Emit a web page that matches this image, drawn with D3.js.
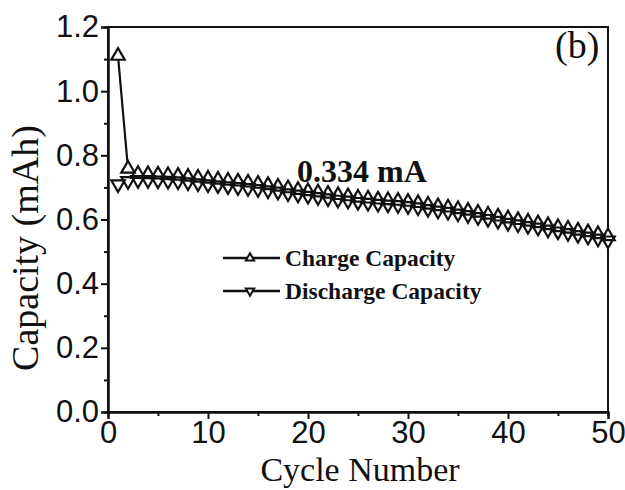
<!DOCTYPE html>
<html><head><meta charset="utf-8">
<script src="https://cdn.jsdelivr.net/npm/d3@7"></script>
<style>body{margin:0;background:#fff}svg{display:block}</style>
</head><body>
<svg id="c" width="625" height="490"></svg>
<script>
const cycles = d3.range(1, 51);
const chargeCapacity = [1.110, 0.758, 0.742, 0.741, 0.740, 0.738, 0.736, 0.733, 0.730, 0.727,
  0.724, 0.721, 0.718, 0.715, 0.711, 0.707, 0.702, 0.697, 0.692, 0.688,
  0.684, 0.680, 0.676, 0.672, 0.668, 0.665, 0.662, 0.660, 0.658, 0.655,
  0.651, 0.646, 0.641, 0.637, 0.632, 0.627, 0.621, 0.615, 0.609, 0.603,
  0.598, 0.593, 0.588, 0.582, 0.576, 0.571, 0.565, 0.560, 0.554, 0.548];
const dischargeCapacity = [0.710, 0.720, 0.723, 0.723, 0.722, 0.721, 0.719, 0.716, 0.713, 0.710,
  0.707, 0.704, 0.701, 0.698, 0.695, 0.691, 0.687, 0.682, 0.678, 0.674,
  0.670, 0.666, 0.662, 0.659, 0.655, 0.652, 0.649, 0.647, 0.645, 0.642,
  0.638, 0.633, 0.628, 0.624, 0.619, 0.614, 0.608, 0.602, 0.596, 0.590,
  0.585, 0.580, 0.575, 0.569, 0.563, 0.558, 0.552, 0.547, 0.541, 0.535];
const xTicks = [0, 10, 20, 30, 40, 50];
const yTicks = [0.0, 0.2, 0.4, 0.6, 0.8, 1.0, 1.2];
const seriesNames = ["Charge Capacity", "Discharge Capacity"];

const svg = d3.select("#c");
const L = 108, R = 608, T = 27, B = 412;
const x = d3.scaleLinear().domain([0, 50]).range([L, R]);
const y = d3.scaleLinear().domain([0, 1.2]).range([B, T]);
const serif = "Liberation Serif, Times New Roman, serif";
const sans = "Liberation Sans, Arial, sans-serif";

// frame
svg.append("rect").attr("x", L).attr("y", T).attr("width", R - L).attr("height", B - T)
  .attr("fill", "none").attr("stroke", "#111").attr("stroke-width", 2);

// axes
const xAxis = d3.axisBottom(x).tickValues(xTicks).tickFormat(d3.format("d")).tickSize(7).tickPadding(2);
const xMinor = d3.axisBottom(x).tickValues(d3.range(5, 50, 10)).tickFormat("").tickSize(4);
const yAxis = d3.axisLeft(y).tickValues(yTicks).tickFormat(d3.format(".1f")).tickSize(7).tickPadding(2);
const yMinor = d3.axisLeft(y).tickValues(d3.range(0.1, 1.2, 0.2)).tickFormat("").tickSize(4);

function style(g) {
  g.select(".domain").attr("stroke", "#111").attr("stroke-width", 2);
  g.selectAll(".tick line").attr("stroke", "#111").attr("stroke-width", 2);
  g.selectAll("text").attr("font-family", sans).attr("font-size", 31).attr("fill", "#111");
}
svg.append("g").attr("transform", `translate(0,${B})`).call(xAxis).call(style);
svg.append("g").attr("transform", `translate(0,${B})`).call(xMinor).call(style);
svg.append("g").attr("transform", `translate(${L},0)`).call(yAxis).call(style);
svg.append("g").attr("transform", `translate(${L},0)`).call(yMinor).call(style);

// titles
svg.append("text").attr("x", 360).attr("y", 481).attr("text-anchor", "middle")
  .attr("font-family", serif).attr("font-size", 34).attr("fill", "#111")
  .text("Cycle Number");
svg.append("text").attr("transform", `translate(38,248) rotate(-90)`).attr("text-anchor", "middle")
  .attr("font-family", serif).attr("font-size", 38).attr("fill", "#111")
  .text("Capacity (mAh)");

// series
const line = d3.line().x((d, i) => x(cycles[i])).y(d => y(d));
const up = d3.symbol().type(d3.symbolTriangle).size(78);
svg.append("path").datum(chargeCapacity).attr("d", line).attr("fill", "none").attr("stroke", "#111").attr("stroke-width", 2.2);
svg.append("path").datum(dischargeCapacity).attr("d", line).attr("fill", "none").attr("stroke", "#111").attr("stroke-width", 2.2);

const allMarks = [
  ...dischargeCapacity.map((v, i) => ({ c: cycles[i], v, flip: true })),
  ...chargeCapacity.map((v, i) => ({ c: cycles[i], v, flip: false }))
];
const tf = d => `translate(${x(d.c)},${y(d.v)})${d.flip ? " rotate(180)" : ""}`;
// white fills hide the connecting line inside each marker
svg.append("g").selectAll("path").data(allMarks).join("path")
  .attr("d", up).attr("transform", tf).attr("fill", "#fff").attr("stroke", "none");
// outlines on top so every marker edge stays visible
svg.append("g").selectAll("path").data(allMarks).join("path")
  .attr("d", up).attr("transform", tf).attr("fill", "none").attr("stroke", "#111").attr("stroke-width", 2.2);

// annotations
svg.append("text").attr("x", 297).attr("y", 182)
  .attr("font-family", serif).attr("font-weight", "bold").attr("font-size", 32).attr("fill", "#111")
  .text("0.334 mA");
svg.append("text").attr("x", 555).attr("y", 58)
  .attr("font-family", serif).attr("font-size", 38).attr("fill", "#111")
  .text("(b)");

// legend
const legY = [258, 291];
const small = d3.symbol().type(d3.symbolTriangle).size(30);
seriesNames.forEach((name, i) => {
  const g = svg.append("g").attr("transform", `translate(0,${legY[i]})`);
  g.append("line").attr("x1", 223).attr("x2", 280).attr("y1", 0).attr("y2", 0).attr("stroke", "#111").attr("stroke-width", 2.5);
  g.append("path").attr("d", small).attr("transform", `translate(250,0)${i ? " rotate(180)" : ""}`)
    .attr("fill", "#fff").attr("stroke", "#111").attr("stroke-width", 2);
  g.append("text").attr("x", 285).attr("y", 8)
    .attr("font-family", serif).attr("font-weight", "bold").attr("font-size", 23.5).attr("fill", "#111")
    .text(name);
});
</script>
</body></html>
